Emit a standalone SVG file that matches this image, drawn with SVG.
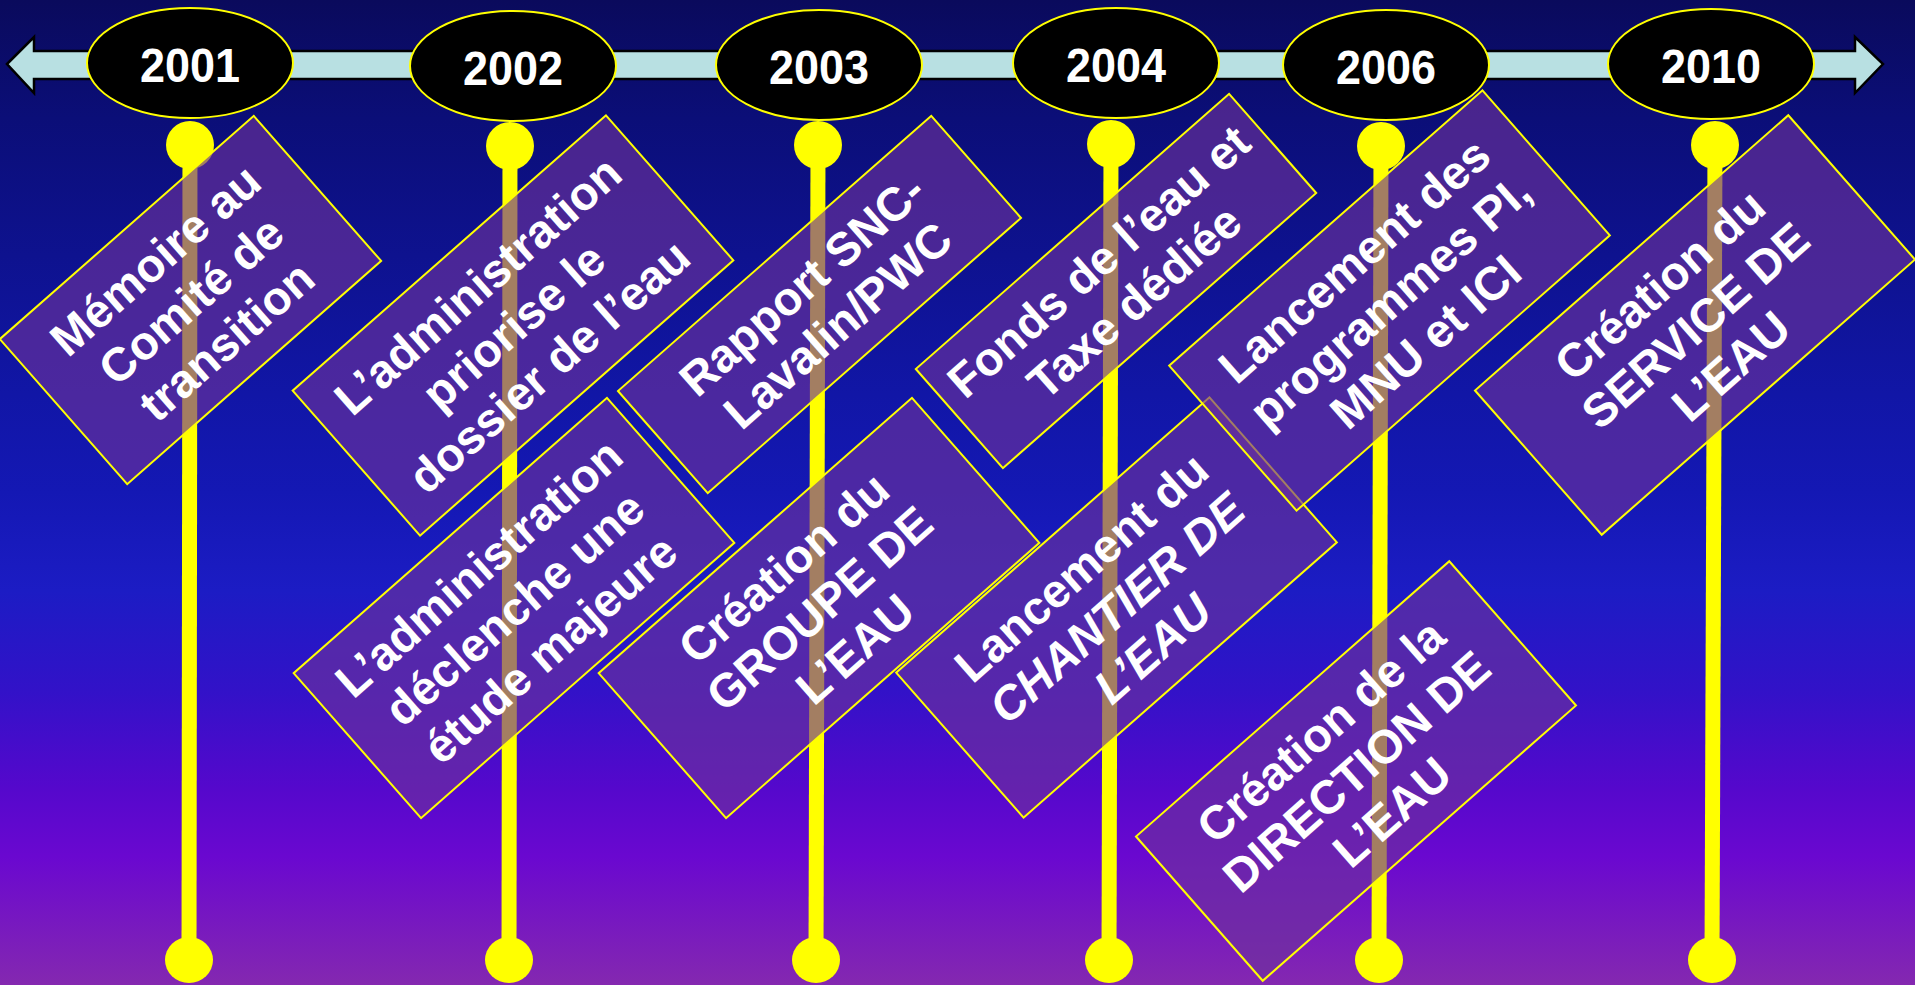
<svg xmlns="http://www.w3.org/2000/svg" width="1915" height="985" viewBox="0 0 1915 985">
  <defs>
    <linearGradient id="bg" x1="0" y1="0" x2="0" y2="1">
      <stop offset="0" stop-color="#0a0a5c"/>
      <stop offset="0.12" stop-color="#0b0e78"/>
      <stop offset="0.4" stop-color="#1116a6"/>
      <stop offset="0.5" stop-color="#1418b4"/>
      <stop offset="0.6" stop-color="#1c1cc4"/>
      <stop offset="0.7" stop-color="#3212c8"/>
      <stop offset="0.8" stop-color="#5508cc"/>
      <stop offset="0.87" stop-color="#6a08d0"/>
      <stop offset="1" stop-color="#8428b0"/>
    </linearGradient>
    <style>
      .year { fill: #000; stroke: #ffff00; stroke-width: 2; }
      .ytxt { font-family: "Liberation Sans", Arial, sans-serif; font-weight: bold; font-size: 48px; fill: #fff; text-anchor: middle; }
      .pole { stroke: #ffff00; stroke-width: 15; }
      .ball { fill: #ffff00; }
      .box { fill: #6e339c; fill-opacity: 0.63; stroke: #ffff00; stroke-width: 2; }
      .lbl { font-family: "Liberation Sans", Arial, sans-serif; font-weight: bold; font-size: 47px; fill: #fff; text-anchor: middle; }
      .it { font-style: italic; }
    </style>
  </defs>
  <rect x="0" y="0" width="1915" height="985" fill="url(#bg)"/>

  <g id="timeline-arrow">
    <path d="M7,64 L34,37 L34,51 L1855,51 L1855,37 L1883,64 L1855,93 L1855,79 L34,79 L34,93 Z" fill="#b8e0e2" stroke="#000" stroke-width="2.5" stroke-linejoin="miter"/>
  </g>

  <g id="connectors">
    <line class="pole" x1="190" y1="145" x2="189" y2="960"/>
    <line class="pole" x1="510" y1="146" x2="509" y2="960"/>
    <line class="pole" x1="818" y1="145" x2="816" y2="960"/>
    <line class="pole" x1="1111" y1="144" x2="1109" y2="960"/>
    <line class="pole" x1="1381" y1="146" x2="1379" y2="960"/>
    <line class="pole" x1="1715" y1="145" x2="1712" y2="960"/>
    <circle class="ball" cx="190" cy="145" r="24"/>
    <circle class="ball" cx="510" cy="146" r="24"/>
    <circle class="ball" cx="818" cy="145" r="24"/>
    <circle class="ball" cx="1111" cy="144" r="24"/>
    <circle class="ball" cx="1381" cy="146" r="24"/>
    <circle class="ball" cx="1715" cy="145" r="24"/>
    <ellipse class="ball" cx="189" cy="960" rx="24" ry="23"/>
    <ellipse class="ball" cx="509" cy="960" rx="24" ry="23"/>
    <ellipse class="ball" cx="816" cy="960" rx="24" ry="23"/>
    <ellipse class="ball" cx="1109" cy="960" rx="24" ry="23"/>
    <ellipse class="ball" cx="1379" cy="960" rx="24" ry="23"/>
    <ellipse class="ball" cx="1712" cy="960" rx="24" ry="23"/>
  </g>

  <g id="y2001"><ellipse class="year" cx="190" cy="63" rx="103" ry="55"/><text class="ytxt" x="190" y="82" textLength="100" lengthAdjust="spacingAndGlyphs">2001</text></g>
  <g id="y2002"><ellipse class="year" cx="513" cy="66" rx="103" ry="55"/><text class="ytxt" x="513" y="85" textLength="100" lengthAdjust="spacingAndGlyphs">2002</text></g>
  <g id="y2003"><ellipse class="year" cx="819" cy="65" rx="103" ry="55"/><text class="ytxt" x="819" y="84" textLength="100" lengthAdjust="spacingAndGlyphs">2003</text></g>
  <g id="y2004"><ellipse class="year" cx="1116" cy="63" rx="103" ry="55"/><text class="ytxt" x="1116" y="82" textLength="100" lengthAdjust="spacingAndGlyphs">2004</text></g>
  <g id="y2006"><ellipse class="year" cx="1386" cy="65" rx="103" ry="55"/><text class="ytxt" x="1386" y="84" textLength="100" lengthAdjust="spacingAndGlyphs">2006</text></g>
  <g id="y2010"><ellipse class="year" cx="1711" cy="64" rx="103" ry="55"/><text class="ytxt" x="1711" y="83" textLength="100" lengthAdjust="spacingAndGlyphs">2010</text></g>

  <g id="box1" transform="translate(190.5,300) rotate(-41.3)">
    <rect class="box" x="-169" y="-96.5" width="338" height="193"/>
    <text class="lbl" x="0" y="-37">Mémoire au</text>
    <text class="lbl" x="0" y="17">Comité de</text>
    <text class="lbl" x="0" y="71">transition</text>
  </g>
  <g id="box2" transform="translate(513,325.5) rotate(-41.3)">
    <rect class="box" x="-208.5" y="-96.5" width="417" height="193"/>
    <text class="lbl" x="0" y="-37">L’administration</text>
    <text class="lbl" x="0" y="17">priorise le</text>
    <text class="lbl" x="0" y="71">dossier de l’eau</text>
  </g>
  <g id="box3" transform="translate(514,608) rotate(-41.3)">
    <rect class="box" x="-208.5" y="-96.5" width="417" height="193"/>
    <text class="lbl" x="0" y="-37">L’administration</text>
    <text class="lbl" x="0" y="17">déclenche une</text>
    <text class="lbl" x="0" y="71">étude majeure</text>
  </g>
  <g id="box4" transform="translate(819.5,304.5) rotate(-41.3)">
    <rect class="box" x="-208.5" y="-68" width="417" height="136"/>
    <text class="lbl" x="0" y="-10">Rapport SNC-</text>
    <text class="lbl" x="0" y="44">Lavalin/PWC</text>
  </g>
  <g id="box5" transform="translate(819,608) rotate(-41.3)">
    <rect class="box" x="-208.5" y="-96.5" width="417" height="193"/>
    <text class="lbl" x="0" y="-37">Création du</text>
    <text class="lbl" x="0" y="17">GROUPE DE</text>
    <text class="lbl" x="0" y="71">L’EAU</text>
  </g>
  <g id="box6" transform="translate(1116,281) rotate(-41.3)">
    <rect class="box" x="-208.5" y="-66" width="417" height="132"/>
    <text class="lbl" x="0" y="-10">Fonds de l’eau et</text>
    <text class="lbl" x="0" y="44">Taxe dédiée</text>
  </g>
  <g id="box7" transform="translate(1116.5,607.5) rotate(-41.3)">
    <rect class="box" x="-208.5" y="-96.5" width="417" height="193"/>
    <text class="lbl" x="0" y="-37">Lancement du</text>
    <text class="lbl it" x="0" y="17">CHANTIER DE</text>
    <text class="lbl it" x="0" y="71">L’EAU</text>
  </g>
  <g id="box8" transform="translate(1356,771) rotate(-41.3)">
    <rect class="box" x="-208.5" y="-96" width="417" height="192"/>
    <text class="lbl" x="0" y="-37">Création de la</text>
    <text class="lbl" x="0" y="17">DIRECTION DE</text>
    <text class="lbl" x="0" y="71">L’EAU</text>
  </g>
  <g id="box9" transform="translate(1389.5,300.5) rotate(-41.3)">
    <rect class="box" x="-208.5" y="-96.5" width="417" height="193"/>
    <text class="lbl" x="0" y="-37">Lancement des</text>
    <text class="lbl" x="0" y="17">programmes PI,</text>
    <text class="lbl" x="0" y="71">MNU et ICI</text>
  </g>
  <g id="box10" transform="translate(1695,325) rotate(-41.3)">
    <rect class="box" x="-208.5" y="-96" width="417" height="192"/>
    <text class="lbl" x="0" y="-37">Création du</text>
    <text class="lbl" x="0" y="17">SERVICE DE</text>
    <text class="lbl" x="0" y="71">L’EAU</text>
  </g>
</svg>
